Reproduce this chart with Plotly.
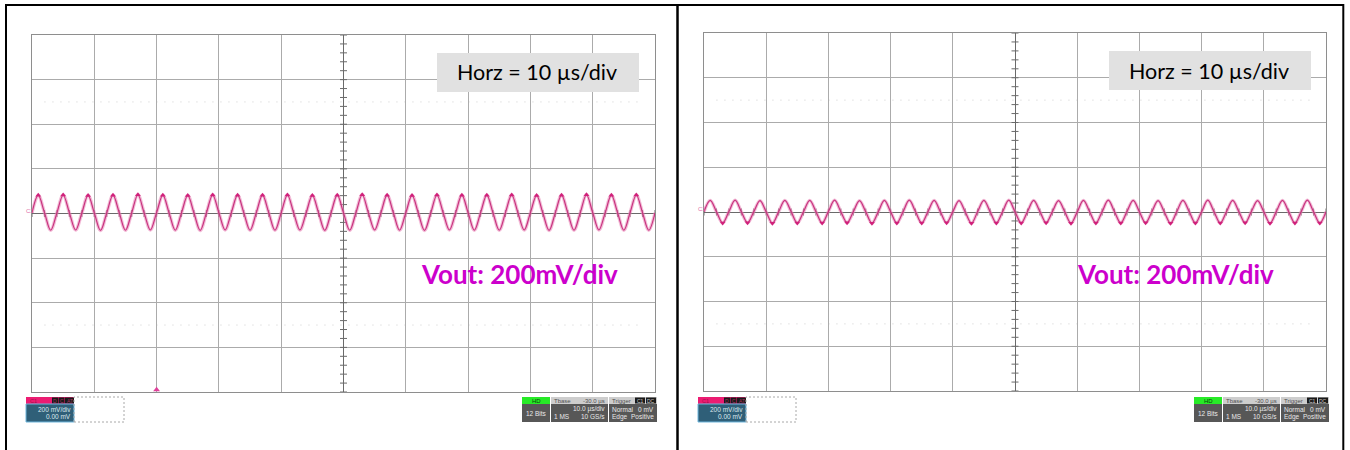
import plotly.graph_objects as go
import numpy as np

# ---------------- data ----------------
t_us = [-50, -49, -48, -47, -46, -45, -44, -43, -42, -41, -40, -39, -38, -37, -36, -35, -34,
        -33, -32, -31, -30, -29, -28, -27, -26, -25, -24, -23, -22, -21, -20, -19, -18, -17,
        -16, -15, -14, -13, -12, -11, -10, -9, -8, -7, -6, -5, -4, -3, -2, -1, 0, 1, 2, 3, 4,
        5, 6, 7, 8, 9, 10, 11, 12, 13, 14, 15, 16, 17, 18, 19, 20, 21, 22, 23, 24, 25, 26, 27,
        28, 29, 30, 31, 32, 33, 34, 35, 36, 37, 38, 39, 40, 41, 42, 43, 44, 45, 46, 47, 48, 49, 50]

vout_left_mv = [3, 82, 4, -75, 3, 83, 3, -74, 2, 81, 3, -76, 3, 82, 4, -75, 3, 84, 3, -74,
                4, 82, 3, -75, 3, 81, 2, -76, 3, 83, 3, -74, 4, 82, 3, -75, 3, 82, 4, -75,
                3, 83, 3, -74, 2, 81, 3, -76, 3, 82, 3, -75, 4, 84, 3, -74, 3, 82, 4, -75,
                3, 81, 3, -76, 2, 83, 3, -74, 3, 82, 4, -75, 3, 82, 3, -75, 4, 83, 3, -74,
                3, 81, 2, -76, 3, 82, 3, -75, 3, 84, 4, -74, 3, 82, 3, -75, 4, 83, 3, -75, 3]

vout_right_mv = [1, 52, 1, -49, 2, 53, 1, -48, 1, 51, 0, -50, 1, 52, 2, -49, 1, 52, 1, -49,
                 2, 53, 1, -48, 1, 51, 1, -50, 0, 52, 1, -49, 1, 53, 2, -49, 1, 52, 1, -48,
                 1, 51, 0, -50, 2, 52, 1, -49, 1, 53, 1, -49, 1, 52, 2, -48, 1, 51, 1, -50,
                 0, 52, 1, -49, 1, 53, 1, -49, 2, 52, 1, -48, 1, 51, 0, -50, 1, 52, 2, -49,
                 1, 53, 1, -49, 1, 52, 1, -48, 2, 51, 1, -50, 1, 52, 1, -49, 1, 53, 1, -49, 1]

horz_label = "Horz = 10 µs/div"
vout_label = "Vout: 200mV/div"
trigger_time_us = -30

W, H = 1350, 450

def px(x):
    return x / W

def py(y):
    return 1 - y / H

fig = go.Figure()

# ---------------- axes (scope grids) ----------------
panels = [
    dict(xa="xaxis", ya="yaxis", x="x", y="y", gx=(32, 655), gy=(35, 392)),
    dict(xa="xaxis2", ya="yaxis2", x="x2", y="y2", gx=(704, 1326), gy=(33, 391)),
]
common_x = dict(range=[-50, 50], dtick=10, tick0=0, showgrid=True, gridcolor="#ababab",
                gridwidth=1, showticklabels=False, ticks="", zeroline=True,
                zerolinecolor="#6a6a6a", zerolinewidth=1, showline=True,
                linecolor="#8e8e8e", linewidth=1, mirror=True, fixedrange=True)
common_y = dict(range=[-800, 800], dtick=200, tick0=0, showgrid=True, gridcolor="#ababab",
                gridwidth=1, showticklabels=False, ticks="", zeroline=True,
                zerolinecolor="#6a6a6a", zerolinewidth=1, showline=True,
                linecolor="#8e8e8e", linewidth=1, mirror=True, fixedrange=True)
layout_axes = {}
for p in panels:
    layout_axes[p["xa"]] = dict(common_x, domain=[px(p["gx"][0]), px(p["gx"][1])], anchor=p["y"])
    layout_axes[p["ya"]] = dict(common_y, domain=[py(p["gy"][1]), py(p["gy"][0])], anchor=p["x"])

# ---------------- traces ----------------
series = [vout_left_mv, vout_right_mv]
for i, p in enumerate(panels):
    # faint dotted cursor lines
    for lvl in (500, -500):
        fig.add_shape(type="line", xref=p["x"], yref=p["y"], x0=-48, x1=48, y0=lvl, y1=lvl,
                      line=dict(color="#cfcfcf", width=1, dash="1px,7px"), layer="below")
    # center-axis ticks
    xt = np.arange(-50, 50.01, 2)
    yt = np.arange(-800, 800.1, 40)
    fig.add_trace(go.Scatter(x=xt, y=np.zeros_like(xt), xaxis=p["x"], yaxis=p["y"], mode="markers",
                             marker=dict(symbol="line-ns", size=5, line=dict(color="#6a6a6a", width=1)),
                             hoverinfo="skip", showlegend=False))
    fig.add_trace(go.Scatter(x=np.zeros_like(yt), y=yt, xaxis=p["x"], yaxis=p["y"], mode="markers",
                             marker=dict(symbol="line-ew", size=5, line=dict(color="#6a6a6a", width=1)),
                             hoverinfo="skip", showlegend=False))
    v = series[i]
    fig.add_trace(go.Scatter(x=t_us, y=v, xaxis=p["x"], yaxis=p["y"], mode="lines",
                             line=dict(color="rgba(232,130,180,0.55)", width=3.4, shape="spline"),
                             hoverinfo="skip", showlegend=False))
    fig.add_trace(go.Scatter(x=t_us, y=v, xaxis=p["x"], yaxis=p["y"], mode="lines",
                             line=dict(color="#c8347f", width=1.2, shape="spline"),
                             hoverinfo="skip", showlegend=False))
    if i == 0:
        fig.add_trace(go.Scatter(x=t_us[1::4], y=v[1::4], xaxis=p["x"], yaxis=p["y"], mode="markers",
                                 marker=dict(symbol="triangle-up", size=5, color="#d0207a"),
                                 hoverinfo="skip", showlegend=False))
        fig.add_trace(go.Scatter(x=[trigger_time_us], y=[-790], xaxis=p["x"], yaxis=p["y"],
                                 mode="markers", cliponaxis=False,
                                 marker=dict(symbol="triangle-up", size=6, color="#e0409a"),
                                 hoverinfo="skip", showlegend=False))
    else:
        fig.add_trace(go.Scatter(x=t_us[3::4], y=v[3::4], xaxis=p["x"], yaxis=p["y"], mode="markers",
                                 marker=dict(symbol="triangle-down", size=5, color="#d0207a"),
                                 hoverinfo="skip", showlegend=False))

shapes = []
annos = []

def rect(x0, y0, x1, y1, fill, line=None, dash=None, lw=0):
    shapes.append(dict(type="rect", xref="paper", yref="paper", x0=px(x0), x1=px(x1),
                       y0=py(y1), y1=py(y0), fillcolor=fill,
                       line=dict(color=line or "rgba(0,0,0,0)", width=lw, dash=dash or "solid"),
                       layer="above"))

def text(x, y, s, size=6.5, color="#ffffff", xanchor="left", family="Liberation Sans", bold=False):
    annos.append(dict(xref="paper", yref="paper", x=px(x), y=py(y), text=("<b>%s</b>" % s) if bold else s,
                      showarrow=False, xanchor=xanchor, yanchor="middle",
                      font=dict(size=size, color=color, family=family), borderpad=0))

def line(x0, y0, x1, y1, w=2, color="#000000"):
    shapes.append(dict(type="line", xref="paper", yref="paper", x0=px(x0), x1=px(x1),
                       y0=py(y0), y1=py(y1), line=dict(color=color, width=w), layer="above"))

# ---------------- outer table borders ----------------
line(6, 5, 1344, 5)
line(6, 4, 6, 452)
line(677.5, 4, 677.5, 452, w=2.5)
line(1343.3, 4, 1343.3, 452)

# ---------------- per-panel decorations ----------------
for dx, dy, vx in ((0, 0, 420), (672, -2, 1076)):
    # Horz box
    rect(437 + dx, 53 + dy, 639 + dx, 92 + dy, "#e1e1e1")
    text(537 + dx, 72.5 + dy, horz_label, size=21.5, color="#000000", xanchor="center", family="Lato")
    # Vout label
    text(vx, 273.5, vout_label, size=26, color="#cc00cc", family="Lato", bold=True)
    # channel marker
    text(25 + dx, 211 + dy, "C1", size=6, color="#e070a8")
    # channel status
    rect(26 + dx, 397, 74 + dx, 404, "#ec1c72")
    text(29 + dx, 400.5, "C1", size=5.5, color="#a0104a")
    for bx0, bx1, s in ((52, 58, "D"), (58.5, 64.5, "C"), (65, 74, "AT")):
        rect(bx0 + dx, 397.5, bx1 + dx, 403.5, "#1a1a1a")
        text((bx0 + bx1) / 2 + dx, 400.5, s, size=5, color="#b03060", xanchor="center")
    rect(26 + dx, 404, 74 + dx, 422, "#2f5f78", line="#6fb6dc", lw=1)
    text(72 + dx, 409, "200 mV/div", size=6.5, color="#dde8ee", xanchor="right")
    text(72 + dx, 416.5, "0.00 mV", size=6.5, color="#dde8ee", xanchor="right")
    rect(74 + dx, 397, 124 + dx, 422, "rgba(0,0,0,0)", line="#a8a8a8", dash="2px,2px", lw=1)
    # acquisition status
    rect(522 + dx, 397, 550 + dx, 404, "#27ea27")
    text(536 + dx, 400.5, "HD", size=6, color="#0a400a", xanchor="center")
    rect(522 + dx, 404, 550 + dx, 422, "#575757")
    text(536 + dx, 413, "12 Bits", size=6.5, color="#e8e8e8", xanchor="center")
    rect(551 + dx, 397, 608 + dx, 404, "#cdcdcd")
    text(553 + dx, 400.5, "Tbase", size=6, color="#505050")
    text(606 + dx, 400.5, "-30.0 µs", size=6, color="#505050", xanchor="right")
    rect(551 + dx, 404, 608 + dx, 422, "#575757")
    text(606 + dx, 409, "10.0 µs/div", size=6.5, color="#e8e8e8", xanchor="right")
    text(553 + dx, 416.5, "1 MS", size=6.5, color="#e8e8e8")
    text(606 + dx, 416.5, "10 GS/s", size=6.5, color="#e8e8e8", xanchor="right")
    rect(609 + dx, 397, 657 + dx, 404, "#cdcdcd")
    text(611 + dx, 400.5, "Trigger", size=6, color="#505050")
    for bx0, bx1, s in ((635, 645, "C1"), (646, 656, "DC")):
        rect(bx0 + dx, 397.5, bx1 + dx, 403.5, "#1a1a1a")
        text((bx0 + bx1) / 2 + dx, 400.5, s, size=5, color="#d0d0d0", xanchor="center")
    rect(609 + dx, 404, 657 + dx, 422, "#575757")
    text(611 + dx, 409, "Normal", size=6.5, color="#e8e8e8")
    text(655 + dx, 409, "0 mV", size=6.5, color="#e8e8e8", xanchor="right")
    text(611 + dx, 416.5, "Edge", size=6.5, color="#e8e8e8")
    text(655 + dx, 416.5, "Positive", size=6.5, color="#e8e8e8", xanchor="right")

fig.update_layout(width=W, height=H, margin=dict(l=0, r=0, t=0, b=0, pad=0),
                  paper_bgcolor="#ffffff", plot_bgcolor="#ffffff", showlegend=False,
                  shapes=fig.layout.shapes + tuple(shapes), annotations=annos, **layout_axes)

fig.write_html("out.html", config={"displayModeBar": False},
               post_script="document.body.style.margin='0';")
